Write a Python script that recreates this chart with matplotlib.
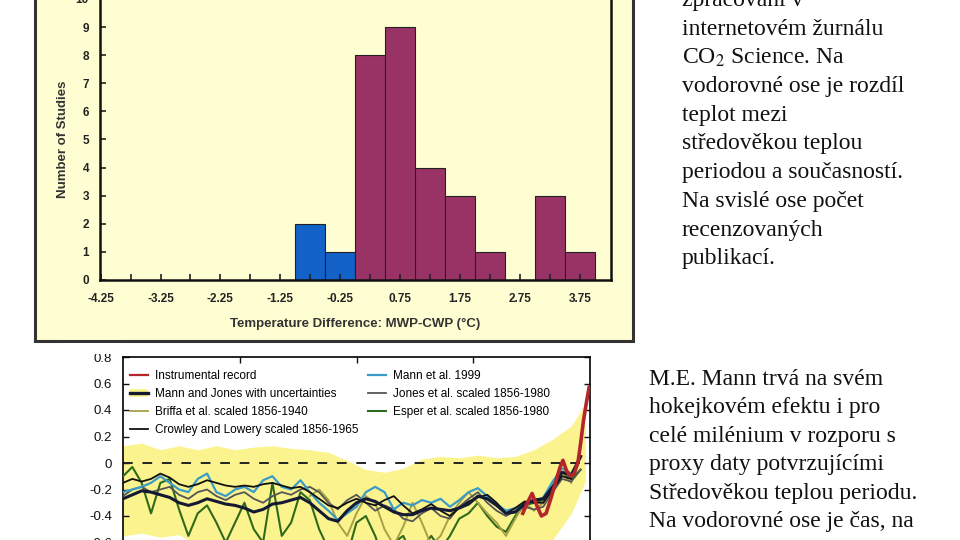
import numpy as np
import matplotlib
matplotlib.use("Agg")
import matplotlib.pyplot as plt
from matplotlib.patches import Rectangle, Patch
from matplotlib.lines import Line2D

plt.rcParams['font.family'] = ['Liberation Sans', 'DejaVu Sans']
plt.rcParams['mathtext.fontset'] = 'stix'

# ---- top chart: histogram of studies ----
bin_left = [-1.0, -0.5, 0.0, 0.5, 1.0, 1.5, 2.0, 2.5, 3.0, 3.5]
study_counts = [2, 1, 8, 9, 4, 3, 1, 0, 3, 1]
hist_xticks = [-4.25, -3.25, -2.25, -1.25, -0.25, 0.75, 1.75, 2.75, 3.75]
hist_xlabels = ["-4.25", "-3.25", "-2.25", "-1.25", "-0.25", "0.75", "1.75", "2.75", "3.75"]
hist_minor = [-3.75, -2.75, -1.75, -0.75, 0.25, 1.25, 2.25, 3.25]
hist_yticks = [0, 1, 2, 3, 4, 5, 6, 7, 8, 9, 10]

# ---- bottom chart: reconstructions ----
years = list(range(1000, 2000, 20))
mann_jones = [-0.27, -0.24, -0.21, -0.22, -0.24, -0.26, -0.30, -0.32, -0.30, -0.27,
              -0.29, -0.31, -0.32, -0.34, -0.37, -0.35, -0.31, -0.30, -0.28, -0.26,
              -0.30, -0.36, -0.42, -0.44, -0.36, -0.30, -0.27, -0.29, -0.33, -0.37,
              -0.39, -0.39, -0.36, -0.34, -0.35, -0.36, -0.34, -0.31, -0.25, -0.27,
              -0.32, -0.38, -0.37, -0.31, -0.28, -0.27, -0.18, -0.07, -0.09, 0.05]
crowley = [-0.15, -0.12, -0.14, -0.12, -0.08, -0.11, -0.16, -0.18, -0.16, -0.13,
           -0.15, -0.17, -0.18, -0.17, -0.18, -0.16, -0.15, -0.17, -0.19, -0.18,
           -0.22, -0.27, -0.32, -0.34, -0.30, -0.27, -0.30, -0.32, -0.28, -0.25,
           -0.32, -0.38, -0.35, -0.31, -0.36, -0.40, -0.34, -0.29, -0.26, -0.24,
           -0.30, -0.38, -0.34, -0.29, -0.30, -0.30, -0.20, -0.10, -0.12]
jones = [-0.25, -0.20, -0.18, -0.22, -0.20, -0.18, -0.24, -0.27, -0.22, -0.20,
         -0.25, -0.28, -0.24, -0.22, -0.27, -0.30, -0.25, -0.22, -0.24, -0.20,
         -0.18, -0.22, -0.30, -0.35, -0.28, -0.24, -0.30, -0.36, -0.32, -0.35,
         -0.42, -0.44, -0.38, -0.34, -0.40, -0.42, -0.33, -0.27, -0.22, -0.30,
         -0.36, -0.40, -0.36, -0.33, -0.35, -0.33, -0.22, -0.12, -0.14, -0.05]
mann99 = [-0.22, -0.20, -0.18, -0.15, -0.10, -0.15, -0.20, -0.22, -0.12, -0.08,
          -0.22, -0.25, -0.20, -0.18, -0.22, -0.13, -0.10, -0.18, -0.20, -0.13,
          -0.22, -0.30, -0.36, -0.43, -0.38, -0.33, -0.22, -0.18, -0.22, -0.35,
          -0.30, -0.32, -0.28, -0.30, -0.27, -0.33, -0.28, -0.22, -0.19, -0.25,
          -0.31, -0.36, -0.34, -0.31, -0.29, -0.26, -0.14, -0.04, -0.08, 0.04]
esper = [-0.10, -0.03, -0.15, -0.38, -0.15, -0.12, -0.35, -0.55, -0.38, -0.32,
         -0.45, -0.60, -0.45, -0.30, -0.50, -0.60, -0.15, -0.55, -0.45, -0.22,
         -0.28, -0.50, -0.65, -0.60, -0.70, -0.45, -0.40, -0.55, -0.75, -0.60,
         -0.55, -0.70, -0.65, -0.55, -0.65, -0.55, -0.42, -0.38, -0.30, -0.40,
         -0.48, -0.52, -0.40, -0.32, -0.30, -0.28, -0.22, -0.08, -0.12, -0.05]
briffa_years = list(range(1400, 1980, 20))
briffa = [-0.25, -0.20, -0.28, -0.45, -0.55, -0.38, -0.25, -0.30, -0.50, -0.62,
          -0.48, -0.30, -0.45, -0.62, -0.55, -0.40, -0.30, -0.22, -0.30, -0.38,
          -0.45, -0.55, -0.42, -0.30, -0.36, -0.30, -0.20, -0.08, -0.15]
instr_years = [1856, 1866, 1876, 1886, 1896, 1906, 1916, 1926, 1936, 1942,
               1950, 1958, 1966, 1974, 1980, 1986, 1992, 1998]
instr = [-0.38, -0.30, -0.23, -0.32, -0.40, -0.38, -0.27, -0.15, -0.03, 0.02,
         -0.06, -0.10, -0.08, 0.00, 0.15, 0.32, 0.45, 0.57]
band_years = [1000, 1040, 1080, 1120, 1160, 1200, 1240, 1280, 1320, 1360, 1400, 1440, 1480,
              1520, 1560, 1600, 1640, 1680, 1720, 1760, 1800, 1840, 1880, 1920, 1960, 1990]
band_high = [0.13, 0.15, 0.10, 0.13, 0.10, 0.13, 0.10, 0.12, 0.13, 0.11, 0.10, 0.08, 0.02,
             -0.05, -0.07, -0.04, 0.03, 0.05, 0.04, 0.06, 0.04, 0.05, 0.10, 0.18, 0.28, 0.45]
band_low = [-0.55, -0.53, -0.56, -0.54, -0.62, -0.70, -0.72, -0.75, -0.75, -0.75, -0.75, -0.75, -0.75,
            -0.75, -0.75, -0.75, -0.75, -0.75, -0.75, -0.75, -0.75, -0.72, -0.68, -0.58, -0.38, -0.14]
temp_yticks = [-0.6, -0.4, -0.2, 0, 0.2, 0.4, 0.6, 0.8]
temp_ylabels = ["-0.6", "-0.4", "-0.2", "0", "0.2", "0.4", "0.6", "0.8"]

# ---- slide text ----
text_top = ["zpracování v", "internetovém žurnálu", "CO$_2$ Science. Na",
            "vodorovné ose je rozdíl", "teplot mezi", "středověkou teplou",
            "periodou a současností.", "Na svislé ose počet", "recenzovaných", "publikací."]
text_bottom = ["M.E. Mann trvá na svém", "hokejkovém efektu i pro",
               "celé milénium v rozporu s", "proxy daty potvrzujícími",
               "Středověkou teplou periodu.", "Na vodorovné ose je čas, na"]

W, H = 960, 540
panel_color = '#FFFED2'


def px(x, y):
    return x / W, 1 - y / H


def histogram(fig):
    x0, y0 = px(35, 341)
    fig.add_artist(Rectangle((x0, y0), 598 / W, 0.7, transform=fig.transFigure,
                             facecolor=panel_color, edgecolor='#333333', linewidth=2.2, zorder=-1))
    ax = fig.add_axes([100 / W, 1 - 280 / H, 511 / W, 281 / H])
    ax.set_facecolor(panel_color)
    colors = ['#1262C8' if b < 0 else '#993366' for b in bin_left]
    ax.bar(bin_left, study_counts, width=0.5, align='edge', color=colors,
           edgecolor='#222222', linewidth=0.8)
    ax.set_xlim(-4.26, 4.27)
    ax.set_ylim(0, 10)
    ax.set_xticks(hist_xticks, hist_xlabels)
    ax.set_xticks(hist_minor, minor=True)
    ax.set_yticks(hist_yticks)
    ax.tick_params(axis='both', which='both', direction='in', length=4, width=1.2, colors='#222222')
    ax.tick_params(axis='x', pad=9, labelsize=8.5)
    ax.tick_params(axis='y', pad=8, labelsize=8.5)
    for lab in ax.get_xticklabels() + ax.get_yticklabels():
        lab.set_fontweight('bold')
    for s in ['left', 'bottom', 'right']:
        ax.spines[s].set_linewidth(1.8)
        ax.spines[s].set_color('#111111')
    ax.spines['top'].set_color('#999999')
    ax.set_xlabel("Temperature Difference: MWP-CWP (°C)", fontsize=9.5, fontweight='bold',
                  color='#333333', labelpad=10)
    ax.set_ylabel("Number of Studies", fontsize=9.5, fontweight='bold', color='#333333', labelpad=5)


def reconstructions(fig):
    ax = fig.add_axes([123 / W, 1 - 357 / H - 238.5 / H, 467 / W, 238.5 / H])
    ax.fill_between(band_years, band_low, band_high, color='#FBF48E', linewidth=0, zorder=1)
    ax.axhline(0, color='#222222', linestyle=(0, (5, 5)), linewidth=1.4, zorder=2)
    ax.plot(years, esper, color='#2F6A1C', linewidth=1.5, zorder=3)
    ax.plot(briffa_years, briffa, color='#A6A046', linewidth=1.4, zorder=3)
    ax.plot(years, jones, color='#555555', linewidth=1.3, zorder=4)
    ax.plot(years, mann99, color='#3A9BCB', linewidth=1.6, zorder=4)
    ax.plot(years[:len(crowley)], crowley, color='#111111', linewidth=1.3, zorder=5)
    ax.plot(years, mann_jones, color='#141a33', linewidth=2.2, zorder=5)
    ax.plot(instr_years, instr, color='#B3262A', linewidth=2.6, zorder=6)
    ax.set_xlim(1000, 2000)
    ax.set_ylim(-1.0, 0.8)
    ax.set_yticks(temp_yticks, temp_ylabels)
    ax.set_xticks([1250, 1500, 1750])
    ax.tick_params(direction='in', length=4, width=1, top=True, right=True,
                   labelsize=9.5, pad=8, colors='#111111')
    ax.tick_params(axis='x', labelbottom=False)
    for s in ax.spines.values():
        s.set_linewidth(1.2)
    handles = [Line2D([], [], color='#B3262A', linewidth=1.6),
               (Patch(facecolor='#FBF48E', edgecolor='none'), Line2D([], [], color='#141a33', linewidth=2.4)),
               Line2D([], [], color='#A6A046', linewidth=1.3),
               Line2D([], [], color='#111111', linewidth=1.3),
               Line2D([], [], color='#3A9BCB', linewidth=1.6),
               Line2D([], [], color='#555555', linewidth=1.3),
               Line2D([], [], color='#2F6A1C', linewidth=1.5)]
    labels = ["Instrumental record", "Mann and Jones with uncertainties",
              "Briffa et al. scaled 1856-1940", "Crowley and Lowery scaled 1856-1965",
              "Mann et al. 1999", "Jones et al. scaled 1856-1980", "Esper et al. scaled 1856-1980"]
    ax.legend(handles, labels, ncol=2, loc='upper left', bbox_to_anchor=(0.015, 0.945),
              frameon=False, fontsize=8.5, handlelength=1.5, handletextpad=0.6,
              columnspacing=0.85, labelspacing=0.5, borderpad=0, borderaxespad=0)
    # the source picture is cropped just above this chart, cutting the top label
    x0, y0 = px(60, 354)
    fig.add_artist(Rectangle((x0, y0), 62 / W, 11 / H, transform=fig.transFigure,
                             facecolor='white', edgecolor='none', zorder=10))


def slide_text(fig):
    for i, line in enumerate(text_top):
        x, y = px(682, 6 + 28.7 * i)
        fig.text(x, y, line, fontsize=17, family='Liberation Serif', va='baseline', color='#111111')
    for i, line in enumerate(text_bottom):
        x, y = px(649, 385 + 28.4 * i)
        fig.text(x, y, line, fontsize=17, family='Liberation Serif', va='baseline', color='#111111')


def main():
    fig = plt.figure(figsize=(9.6, 5.4), dpi=100, facecolor='white')
    histogram(fig)
    reconstructions(fig)
    slide_text(fig)
    fig.savefig("out.png", dpi=100, facecolor='white')


if __name__ == "__main__":
    main()
